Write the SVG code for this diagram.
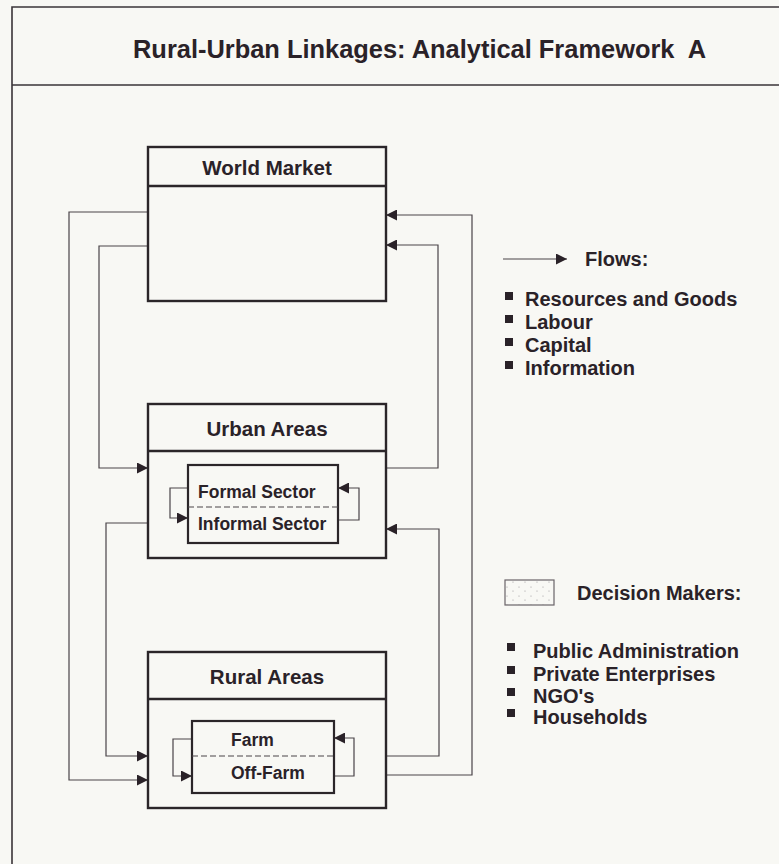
<svg xmlns="http://www.w3.org/2000/svg" width="779" height="864" viewBox="0 0 779 864">
  <style>
    .bg { fill: #f8f8f4; }
    .frame { fill: none; stroke: #3a3438; stroke-width: 1.6; }
    .box { fill: none; stroke: #2b2629; stroke-width: 2.4; }
    .inner { fill: none; stroke: #2b2629; stroke-width: 2.2; }
    .dash { fill: none; stroke: #4a4448; stroke-width: 1.2; stroke-dasharray: 6 3; }
    .link { fill: none; stroke: #4a4448; stroke-width: 1.2; marker-end: url(#head); }
    .txt { font-family: "Liberation Sans", Arial, sans-serif; font-weight: bold; fill: #2a2228; }
    .title { font-size: 25px; white-space: pre; }
    .head { font-size: 20.5px; text-anchor: middle; }
    .sub { font-size: 17.5px; }
    .leg { font-size: 20px; }
    .bullet { fill: #2a2228; }
  </style>
  <defs>
    <marker id="head" viewBox="0 0 10 10" refX="10" refY="5" markerWidth="12" markerHeight="11" markerUnits="userSpaceOnUse" orient="auto">
      <path d="M0,0 L10,5 L0,10 z" fill="#2a2228"/>
    </marker>
    <pattern id="stipple" width="12" height="9" patternUnits="userSpaceOnUse">
      <circle cx="3" cy="2" r="0.6" fill="#9a969a"/>
      <circle cx="9" cy="6" r="0.6" fill="#9a969a"/>
    </pattern>
  </defs>

  <rect class="bg" x="0" y="0" width="779" height="864"/>

  <!-- page frame and title band -->
  <g id="frame">
    <path class="frame" d="M12,864 V7 H779"/>
    <line class="frame" x1="12" y1="85" x2="779" y2="85"/>
    <text class="txt title" x="133" y="58" textLength="573" lengthAdjust="spacingAndGlyphs" xml:space="preserve">Rural-Urban Linkages: Analytical Framework  A</text>
  </g>

  <!-- flows between the levels -->
  <g id="connectors">
    <path class="link" d="M148,212 H69 V780 H148"/>
    <path class="link" d="M148,246 H99 V468 H148"/>
    <path class="link" d="M148,523 H106 V756 H148"/>
    <path class="link" d="M386,775 H472 V215 H386"/>
    <path class="link" d="M386,468 H438 V245 H386"/>
    <path class="link" d="M386,756 H439 V529 H386"/>
    <path class="link" d="M188,488 H170 V518 H188"/>
    <path class="link" d="M338,520 H359 V488 H338"/>
    <path class="link" d="M192,739 H173 V776 H192"/>
    <path class="link" d="M334,776 H354 V738 H334"/>
  </g>

  <g id="world-market">
    <rect class="box" x="148" y="147" width="238" height="154"/>
    <line class="box" x1="148" y1="186" x2="386" y2="186"/>
    <text class="txt head" x="267" y="175">World Market</text>
  </g>

  <g id="urban-areas">
    <rect class="box" x="148" y="404" width="238" height="154"/>
    <line class="box" x1="148" y1="451" x2="386" y2="451"/>
    <text class="txt head" x="267" y="436">Urban Areas</text>
  </g>

  <g id="urban-sectors">
    <rect class="inner" x="188" y="465" width="150" height="78"/>
    <line class="dash" x1="188" y1="507" x2="338" y2="507"/>
    <text class="txt sub" x="198" y="498">Formal Sector</text>
    <text class="txt sub" x="198" y="530">Informal Sector</text>
  </g>

  <g id="rural-areas">
    <rect class="box" x="148" y="652" width="238" height="156"/>
    <line class="box" x1="148" y1="699" x2="386" y2="699"/>
    <text class="txt head" x="267" y="684">Rural Areas</text>
  </g>

  <g id="rural-sectors">
    <rect class="inner" x="192" y="721" width="142" height="72"/>
    <line class="dash" x1="192" y1="756" x2="334" y2="756"/>
    <text class="txt sub" x="231" y="746">Farm</text>
    <text class="txt sub" x="231" y="779">Off-Farm</text>
  </g>

  <!-- legend: flows -->
  <g id="legend-flows">
    <line class="link" x1="503" y1="259" x2="567" y2="259"/>
    <text class="txt leg" x="585" y="266">Flows:</text>
    <rect class="bullet" x="505" y="292" width="8" height="8"/>
    <rect class="bullet" x="505" y="315" width="8" height="8"/>
    <rect class="bullet" x="505" y="338" width="8" height="8"/>
    <rect class="bullet" x="505" y="361" width="8" height="8"/>
    <text class="txt leg" x="525" y="306">Resources and Goods</text>
    <text class="txt leg" x="525" y="329">Labour</text>
    <text class="txt leg" x="525" y="352">Capital</text>
    <text class="txt leg" x="525" y="375">Information</text>
  </g>

  <!-- legend: decision makers -->
  <g id="legend-decision-makers">
    <rect x="505" y="580" width="49" height="25" fill="url(#stipple)" stroke="#6a6468" stroke-width="1.2"/>
    <text class="txt leg" x="577" y="600">Decision Makers:</text>
    <rect class="bullet" x="507" y="643" width="8" height="8"/>
    <rect class="bullet" x="507" y="666" width="8" height="8"/>
    <rect class="bullet" x="507" y="688" width="8" height="8"/>
    <rect class="bullet" x="507" y="709" width="8" height="8"/>
    <text class="txt leg" x="533" y="658">Public Administration</text>
    <text class="txt leg" x="533" y="681">Private Enterprises</text>
    <text class="txt leg" x="533" y="703">NGO's</text>
    <text class="txt leg" x="533" y="724">Households</text>
  </g>
</svg>
